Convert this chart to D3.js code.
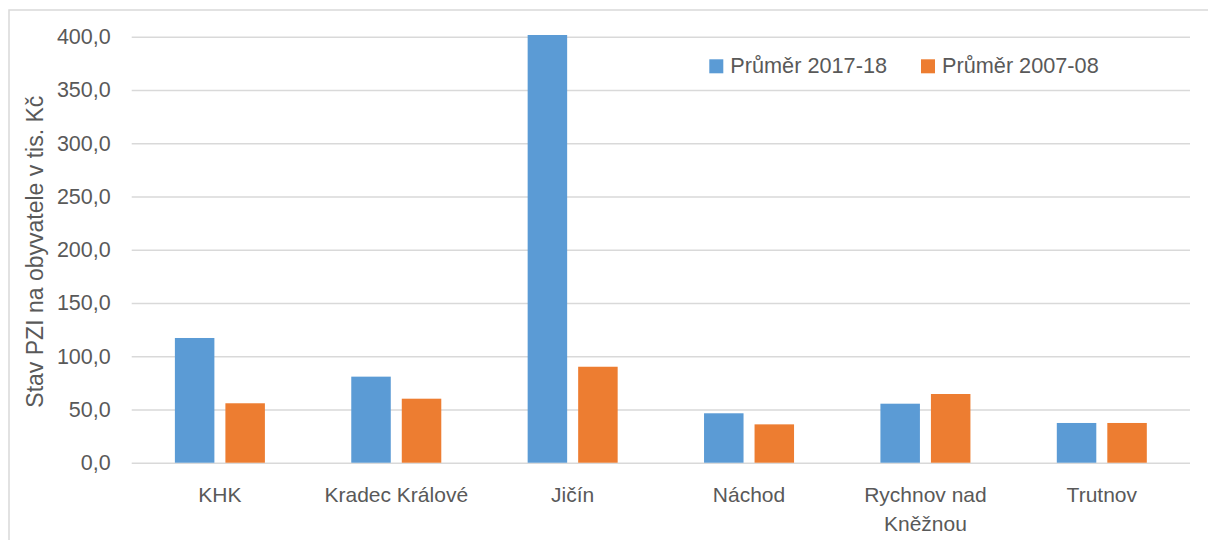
<!DOCTYPE html>
<html>
<head>
<meta charset="utf-8">
<script src="https://cdn.jsdelivr.net/npm/d3@7"></script>
<style>
  html, body { margin: 0; padding: 0; background: #fff; }
  svg { display: block; }
  text { font-family: "Liberation Sans", Arial, sans-serif; fill: #595959; }
</style>
</head>
<body>
<svg id="chart" width="1208" height="540"></svg>
<script>
const categories = ["KHK", "Kradec Králové", "Jičín", "Náchod", "Rychnov nad Kněžnou", "Trutnov"];
const categoryLines = [["KHK"], ["Kradec Králové"], ["Jičín"], ["Náchod"], ["Rychnov nad", "Kněžnou"], ["Trutnov"]];
const seriesNames = ["Průměr 2017-18", "Průměr 2007-08"];
const values2017 = [117.1, 80.8, 401.6, 46.4, 55.4, 37.3];
const values2007 = [55.8, 60.1, 90.1, 36.0, 64.5, 37.3];
const yTicks = [0, 50, 100, 150, 200, 250, 300, 350, 400];
const colors = ["#5B9BD5", "#ED7D31"];
const yTitle = "Stav PZI na obyvatele v tis. Kč";

const svg = d3.select("#chart");
const W = 1208, H = 540;
const plot = { left: 131.7, right: 1190, top: 36.7, bottom: 462.7 };

// chart border
svg.append("rect")
  .attr("x", 9).attr("y", 10)
  .attr("width", W + 20).attr("height", H + 20)
  .attr("fill", "none").attr("stroke", "#d9d9d9").attr("stroke-width", 1.5);

const x0 = d3.scaleBand().domain(categories).range([plot.left, plot.right]).paddingInner(0).paddingOuter(0);
const x1 = d3.scaleBand().domain(seriesNames).range([0, x0.bandwidth()]).paddingInner(0.218).paddingOuter(0.855);
const y = d3.scaleLinear().domain([0, 400]).range([plot.bottom, plot.top]);

// gridlines + y labels via axis
const yAxis = d3.axisLeft(y).tickValues(yTicks)
  .tickSize(-(plot.right - plot.left))
  .tickPadding(21)
  .tickFormat(d => d3.format(".1f")(d).replace(".", ","));
const gy = svg.append("g").attr("transform", `translate(${plot.left},0)`).call(yAxis);
gy.select(".domain").remove();
gy.selectAll(".tick line").attr("stroke", "#d9d9d9").attr("stroke-width", 1.5);
gy.selectAll(".tick text").attr("font-size", 21.5).attr("fill", "#595959")
  .style("font-family", "'Liberation Sans', Arial, sans-serif");

const data = categories.map((c, i) => ({ cat: c, vals: [values2017[i], values2007[i]] }));

const groups = svg.append("g").selectAll("g").data(data).join("g")
  .attr("transform", d => `translate(${x0(d.cat)},0)`);
groups.selectAll("rect").data(d => d.vals.map((v, j) => ({ s: seriesNames[j], v, j })))
  .join("rect")
  .attr("x", d => x1(d.s))
  .attr("width", x1.bandwidth())
  .attr("y", d => y(d.v))
  .attr("height", d => y(0) - y(d.v))
  .attr("fill", d => colors[d.j]);

// x labels
const xl = svg.append("g");
categories.forEach((c, i) => {
  const t = xl.append("text")
    .attr("x", x0(c) + x0.bandwidth() / 2)
    .attr("y", 501.5)
    .attr("text-anchor", "middle")
    .attr("font-size", 21);
  categoryLines[i].forEach((ln, k) => {
    t.append("tspan").attr("x", x0(c) + x0.bandwidth() / 2).attr("dy", k === 0 ? 0 : 29).text(ln);
  });
});

// y title
svg.append("text")
  .attr("transform", `translate(43,${(plot.top + plot.bottom) / 2 + 2}) rotate(-90)`)
  .attr("text-anchor", "middle")
  .attr("font-size", 23)
  .text(yTitle);

// legend
const legendPos = [709.3, 921];
const lg = svg.append("g");
seriesNames.forEach((s, i) => {
  lg.append("rect").attr("x", legendPos[i]).attr("y", 59.3).attr("width", 14).attr("height", 14).attr("fill", colors[i]);
  lg.append("text").attr("x", legendPos[i] + 21).attr("y", 72.5).attr("font-size", 21.7).text(s);
});
</script>
</body>
</html>
